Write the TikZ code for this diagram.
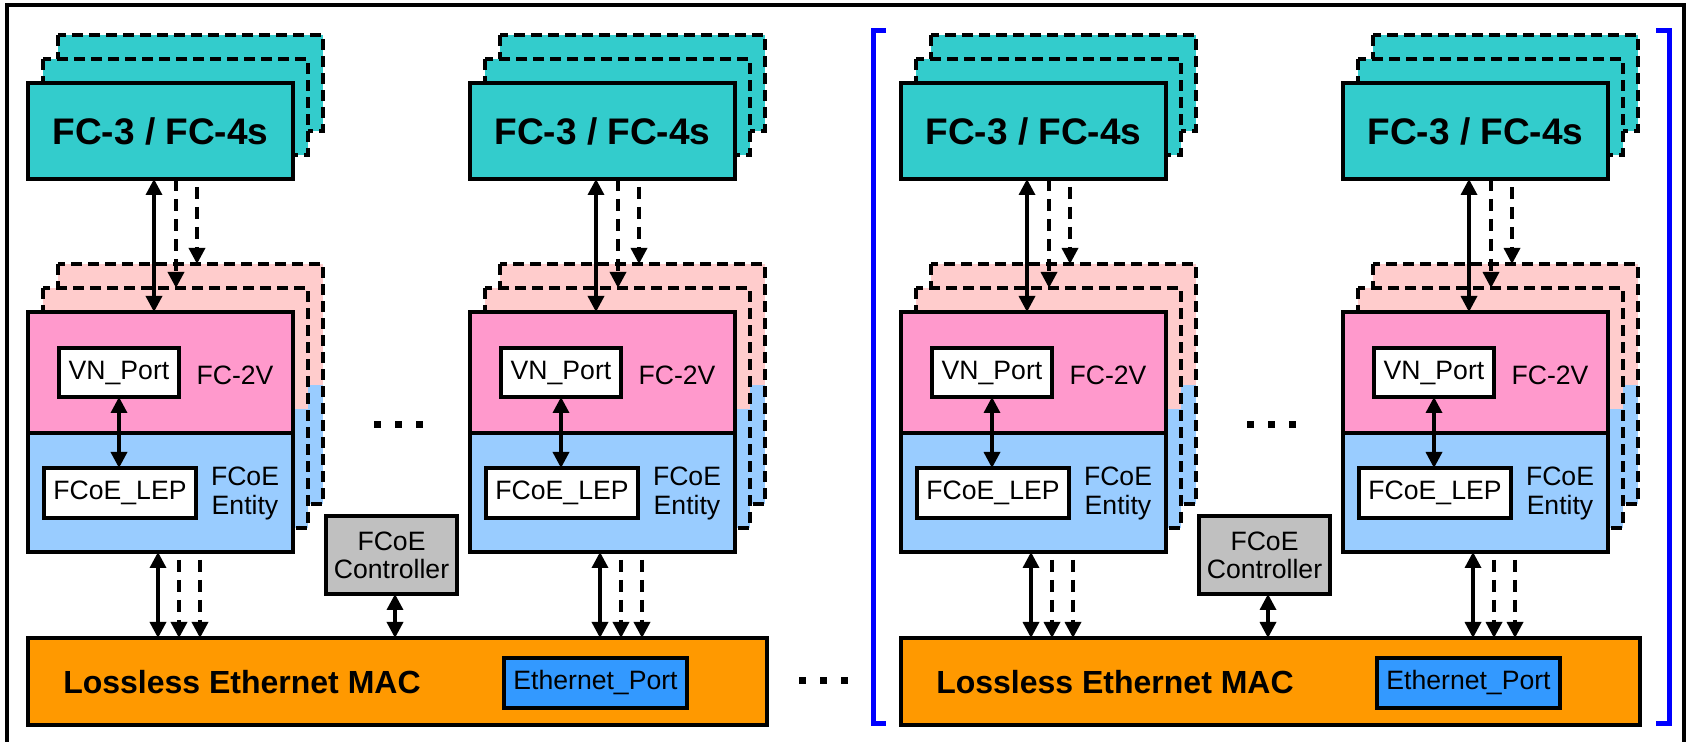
\documentclass[tikz,border=0pt]{standalone}
\usepackage{fontspec}
\setmainfont{Liberation Sans}
\usetikzlibrary{arrows.meta}
\definecolor{tealC}{RGB}{51,204,204}
\definecolor{pinkF}{RGB}{255,153,204}
\definecolor{pinkB}{RGB}{255,204,204}
\definecolor{blueE}{RGB}{153,204,255}
\definecolor{grayC}{RGB}{192,192,192}
\definecolor{orangeM}{RGB}{255,153,0}
\definecolor{blueP}{RGB}{51,153,255}
\definecolor{brk}{RGB}{0,0,255}
\tikzset{
  box/.style={draw, line width=1.7pt, inner sep=0pt, outer sep=0pt},
  fcthree/.style={box, fill=tealC, minimum width=132.5pt, minimum height=48pt, font=\bfseries\fontsize{18.5}{22}\selectfont},
  fctwo/.style={box, fill=pinkF, minimum width=132.5pt, minimum height=60.5pt},
  entity/.style={box, fill=blueE, minimum width=132.5pt, minimum height=59.5pt},
  port/.style={box, fill=white, font=\fontsize{13.3}{15}\selectfont},
  lbl/.style={inner sep=0pt, font=\fontsize{13.3}{14.5}\selectfont, align=center},
  macbox/.style={box, fill=orangeM, minimum width=369.5pt, minimum height=43.5pt},
  maclbl/.style={inner sep=0pt, font=\bfseries\fontsize{16}{19}\selectfont},
  ethport/.style={box, fill=blueP, minimum width=91.5pt, minimum height=25pt, font=\fontsize{13.3}{15}\selectfont},
  ctrlbox/.style={box, fill=grayC, minimum width=65.5pt, minimum height=39pt, align=center, font=\fontsize{13.3}{14}\selectfont},
  backdash/.style={line width=1.8pt, dash pattern=on 5.5pt off 3pt},
  sarr/.style={line width=1.7pt, {Triangle[length=8pt,width=8pt]}-{Triangle[length=8pt,width=8pt]}},
  darr/.style={line width=1.7pt, dash pattern=on 6pt off 4pt, -{Triangle[length=8pt,width=8pt]}},
  bracketline/.style={draw=brk, line width=2.5pt},
}
% #1 = left x of unit (px), #2 = name prefix, #3 = MAC node name
\newcommand{\fcunit}[3]{%
  \foreach \k in {2,1}{
    \draw[backdash, fill=tealC] ({#1+15*\k},{83-24*\k}) rectangle ({#1+265+15*\k},{179-24*\k});
  }
  \node[fcthree] (#2fc3) at ({#1+132.5},131) {FC-3 / FC-4s};
  \foreach \k in {2,1}{
    \fill[pinkB] ({#1+15*\k},{312-24*\k}) rectangle ({#1+265+15*\k},{433-24*\k});
    \fill[blueE] ({#1+15*\k},{433-24*\k}) rectangle ({#1+265+15*\k},{552-24*\k});
    \draw[backdash] ({#1+15*\k},{312-24*\k}) rectangle ({#1+265+15*\k},{552-24*\k});
    \coordinate (#2top\k) at ({#1+15*\k},{312-24*\k});
  }
  \node[fctwo] (#2fc2) at ({#1+132.5},372.5) {};
  \node[entity] (#2ent) at ({#1+132.5},492.5) {};
  \node[port, minimum width=60pt, minimum height=24.5pt] (#2vn) at ({#1+91},372.5) {VN\_Port};
  \node[lbl] (#2fc2l) at ({#1+207},375) {FC-2V};
  \node[port, minimum width=76pt, minimum height=25pt] (#2lep) at ({#1+92},493) {FCoE\_LEP};
  \node[lbl] (#2entl) at ({#1+217},493) {FCoE\\Entity};
  % arrows FC-3 -> FC-2V
  \draw[sarr] ([xshift=63pt]#2fc3.south west) -- ([xshift=63pt]#2fc2.north west);
  \coordinate (#2da) at ([xshift=74pt]#2fc3.south west);
  \coordinate (#2db) at ([xshift=84.5pt]#2fc3.south west);
  \draw[darr] (#2da) -- (#2da |- #2top1);
  \draw[darr, dash phase=6pt] (#2db) -- (#2db |- #2top2);
  % VN_Port <-> FCoE_LEP
  \draw[sarr] (#2vn.south) -- (#2vn.south |- #2lep.north);
  % arrows entity -> MAC
  \coordinate (#2ba) at ([xshift=65pt]#2ent.south west);
  \coordinate (#2bb) at ([xshift=75.5pt]#2ent.south west);
  \coordinate (#2bc) at ([xshift=86pt]#2ent.south west);
  \draw[sarr] (#2ba) -- (#2ba |- #3.north);
  \draw[darr, dash phase=6pt] (#2bb) -- (#2bb |- #3.north);
  \draw[darr, dash phase=6pt] (#2bc) -- (#2bc |- #3.north);
}
% #1 = x offset of half (px), #2 = prefix
\newcommand{\fchalf}[2]{%
  \node[macbox] (#2mac) at ({#1+397.5},681.5) {};
  \node[maclbl] (#2macl) at ({#1+242},682) {Lossless Ethernet MAC};
  \node[ethport] (#2eth) at ({#1+595.5},683) {Ethernet\_Port};
  \node[ctrlbox] (#2ctl) at ({#1+391.5},555) {FCoE\\Controller};
  \coordinate (#2ca) at ([xshift=1.75pt]#2ctl.south);
  \draw[sarr] (#2ca) -- (#2ca |- #2mac.north);
  \fcunit{#1+28}{#2A}{#2mac}
  \fcunit{#1+470}{#2B}{#2mac}
  \foreach \x in {377,398,419}{
    \fill ({#1+\x-3.5},421.5) rectangle ({#1+\x+3.5},428.5);
  }
}
\begin{document}
\begin{tikzpicture}[x=0.5pt,y=-0.5pt]
\useasboundingbox (0,0) rectangle (1688,742);
\fill[white] (0,0) rectangle (1688,742);
\draw[line width=1.8pt] (7,742) -- (7,5) -- (1684,5) -- (1684,742);
\fchalf{0}{L}
\fchalf{873}{R}
\foreach \x in {802,823,844}{
  \fill (\x-3.5,677.5) rectangle (\x+3.5,684.5);
}
\draw[bracketline] (886,31) -- (873,31) -- (873,724) -- (886,724);
\draw[bracketline] (1656,31) -- (1669,31) -- (1669,724) -- (1656,724);
\end{tikzpicture}
\end{document}
